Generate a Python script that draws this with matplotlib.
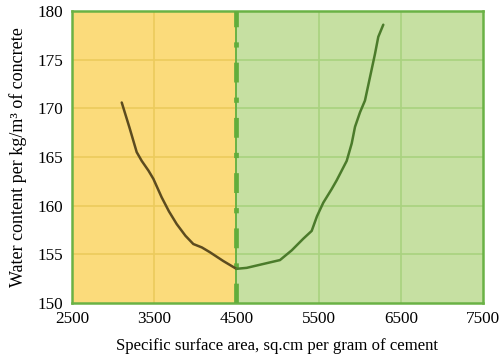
import matplotlib
matplotlib.use('Agg')
from matplotlib import pyplot as plt

plt.rcParams['font.family'] = ['Liberation Serif', 'DejaVu Serif']

# data
left_x = [3105, 3200, 3287, 3348, 3430, 3490, 3591, 3680, 3774, 3880, 3976, 4080, 4179, 4341, 4500]
left_y = [170.6, 168.0, 165.5, 164.6, 163.6, 162.75, 160.85, 159.4, 158.1, 156.9, 156.05, 155.7, 155.2, 154.3, 153.5]
right_x = [4500, 4625, 4827, 5030, 5173, 5314, 5416, 5480, 5557, 5659, 5720, 5842,
           5903, 5943, 6004, 6064, 6125, 6186, 6226, 6287]
right_y = [153.5, 153.6, 154.0, 154.4, 155.4, 156.6, 157.4, 158.9, 160.3, 161.7, 162.6, 164.6,
           166.4, 168.1, 169.6, 170.8, 173.2, 175.6, 177.35, 178.6]

x_min, x_split, x_max = 2500, 4500, 7500
y_min, y_max = 150, 180
x_ticks = [2500, 3500, 4500, 5500, 6500, 7500]
y_ticks = [150, 155, 160, 165, 170, 175, 180]

yellow = '#fbdb7b'
green = '#c6e0a2'
yellow_grid = '#eccb5c'
green_grid = '#a9d27f'
frame = '#6ab245'

fig = plt.figure(figsize=(5.0, 3.58), dpi=100)
ax = fig.add_axes([0.144, 0.154, 0.822, 0.815])

ax.axvspan(x_min, x_split, color=yellow, lw=0, zorder=0)
ax.axvspan(x_split, x_max, color=green, lw=0, zorder=0)

# grid, coloured per region
fl = (x_split - x_min) / (x_max - x_min)
for yt in y_ticks[1:-1]:
    ax.axhline(yt, 0, fl, color=yellow_grid, lw=1.2, zorder=1)
    ax.axhline(yt, fl, 1, color=green_grid, lw=1.2, zorder=1)
for xt in x_ticks[1:-1]:
    c = yellow_grid if xt < x_split else green_grid
    if xt != x_split:
        ax.axvline(xt, color=c, lw=1.2, zorder=1)

# boundary line: thin solid + thick dash-dot
ax.axvline(x_split, color=frame, lw=1.4, zorder=3)
ax.axvline(x_split, color='#62ad3c', lw=3.4, zorder=3,
           linestyle=(0, (4.2, 3.2, 1.1, 3.2)))

ax.plot(left_x, left_y, color='#5c4b1f', lw=1.8, zorder=4,
        solid_capstyle='round', solid_joinstyle='round')
ax.plot(right_x, right_y, color='#4b7b2b', lw=1.8, zorder=4,
        solid_capstyle='round', solid_joinstyle='round')

ax.set_xlim(x_min, x_max)
ax.set_ylim(y_min, y_max)
ax.set_xticks(x_ticks)
ax.set_yticks(y_ticks)
ax.tick_params(length=0, labelsize=12.3, pad=6)
for s in ax.spines.values():
    s.set_color(frame)
    s.set_linewidth(1.8)

ax.set_xlabel('Specific surface area, sq.cm per gram of cement', fontsize=12.1, labelpad=8)
ax.set_ylabel('Water content per kg/m³ of concrete', fontsize=13.0, labelpad=8)

plt.savefig('out.png', dpi=100)
plt.close()
